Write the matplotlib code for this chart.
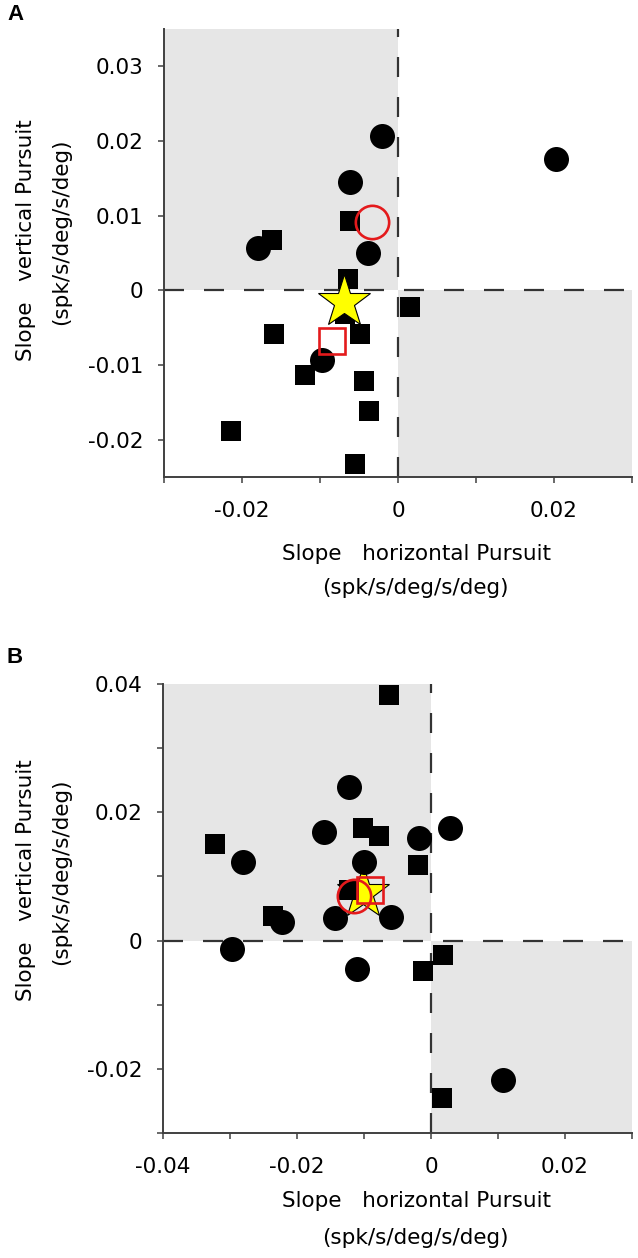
import matplotlib
matplotlib.use("Agg")
import matplotlib.pyplot as plt

plt.rcParams['font.family'] = ['DejaVu Sans']

# ---------------- Panel A data ----------------
a_circ_x = [-0.0020, 0.0202, -0.0062, -0.0180, -0.0038, -0.0098]
a_circ_y = [0.0207, 0.0176, 0.0145, 0.0057, 0.0050, -0.0093]
a_sq_x = [-0.0162, -0.0062, -0.0064, 0.0015, -0.0159, -0.0049, -0.0119,
          -0.0044, -0.0037, -0.0214, -0.0055, -0.0068]
a_sq_y = [0.0068, 0.0093, 0.0015, -0.0022, -0.0059, -0.0059, -0.0113,
          -0.0121, -0.0162, -0.0189, -0.0233, -0.0032]
a_mean_circ = (-0.0033, 0.0091)
a_mean_sq = (-0.0085, -0.0068)
a_mean_all = (-0.0069, -0.0015)
a_xlim = (-0.03, 0.03)
a_ylim = (-0.025, 0.035)
a_xticks = [-0.03, -0.02, -0.01, 0.0, 0.01, 0.02, 0.03]
a_xticklabels = ['', '-0.02', '', '0', '', '0.02', '']
a_yticks = [-0.02, -0.01, 0.0, 0.01, 0.02, 0.03]
a_yticklabels = ['-0.02', '-0.01', '0', '0.01', '0.02', '0.03']

# ---------------- Panel B data ----------------
b_circ_x = [-0.0122, -0.0159, -0.0018, 0.0028, -0.0280, -0.0100, -0.0222,
            -0.0143, -0.0060, -0.0297, -0.0110, 0.0108]
b_circ_y = [0.0240, 0.0169, 0.0160, 0.0176, 0.0122, 0.0123, 0.0029,
            0.0035, 0.0036, -0.0013, -0.0045, -0.0218]
b_sq_x = [-0.0062, -0.0322, -0.0101, -0.0077, -0.0019, -0.0236, -0.0122,
          0.0018, -0.0012, 0.0017]
b_sq_y = [0.0383, 0.0151, 0.0175, 0.0163, 0.0118, 0.0038, 0.0079,
          -0.0023, -0.0048, -0.0245]
b_mean_circ = (-0.0115, 0.0069)
b_mean_sq = (-0.0091, 0.0079)
b_mean_all = (-0.0102, 0.0074)
b_xlim = (-0.04, 0.03)
b_ylim = (-0.03, 0.04)
b_xticks = [-0.04, -0.03, -0.02, -0.01, 0.0, 0.01, 0.02, 0.03]
b_xticklabels = ['-0.04', '', '-0.02', '', '0', '', '0.02', '']
b_yticks = [-0.03, -0.02, -0.01, 0.0, 0.01, 0.02, 0.03, 0.04]
b_yticklabels = ['', '-0.02', '', '0', '', '0.02', '', '0.04']

xlabel1 = 'Slope   horizontal Pursuit'
xlabel2 = '(spk/s/deg/s/deg)'
ylabel1 = 'Slope   vertical Pursuit'
ylabel2 = '(spk/s/deg/s/deg)'

W, H = 638, 1258
fig = plt.figure(figsize=(W / 100, H / 100), dpi=100)

GREY = '#e6e6e6'
RED = '#e41a1c'
SPINE = '#404040'
FS = 15.5


def px_axes(l, t, r, b):
    return fig.add_axes([l / W, 1 - b / H, (r - l) / W, (b - t) / H])


def draw_panel(ax, cx, cy, sx, sy, mc, ms, ma, xlim, ylim, xt, xtl, yt, ytl, star_top):
    ax.set_xlim(*xlim)
    ax.set_ylim(*ylim)
    ax.fill_between([xlim[0], 0], 0, ylim[1], color=GREY, lw=0, zorder=0)
    ax.fill_between([0, xlim[1]], ylim[0], 0, color=GREY, lw=0, zorder=0)
    ax.axhline(0, color='#333333', lw=1.6, dashes=(9, 9), zorder=1)
    ax.axvline(0, color='#333333', lw=1.6, dashes=(9, 9), zorder=1)
    zs = 5 if star_top else 2
    ax.plot([ma[0]], [ma[1]], marker='*', ms=40, mfc='#ffff00', mec='black',
            mew=0.8, ls='none', zorder=zs, clip_on=False)
    ax.plot(sx, sy, marker='s', ms=14.5, mfc='black', mec='black', mew=0,
            ls='none', zorder=3, clip_on=False)
    ax.plot(cx, cy, marker='o', ms=18, mfc='black', mec='black', mew=0,
            ls='none', zorder=4, clip_on=False)
    ax.plot([mc[0]], [mc[1]], marker='o', ms=24, mfc='none', mec=RED,
            mew=1.9, ls='none', zorder=6)
    ax.plot([ms[0]], [ms[1]], marker='s', ms=19, mfc='none', mec=RED,
            mew=1.9, ls='none', zorder=6)
    for s in ('top', 'right'):
        ax.spines[s].set_visible(False)
    for s in ('left', 'bottom'):
        ax.spines[s].set_color(SPINE)
        ax.spines[s].set_linewidth(1.4)
        ax.spines[s].set_zorder(7)
    ax.set_xticks(xt)
    ax.set_xticklabels(xtl)
    ax.set_yticks(yt)
    ax.set_yticklabels(ytl)
    ax.tick_params(axis='both', direction='out', length=4, width=1.1,
                   color=SPINE, labelsize=FS, labelcolor='black')
    ax.tick_params(axis='y', pad=11)
    ax.tick_params(axis='x', pad=13)


axA = px_axes(164, 29, 632, 477)
draw_panel(axA, a_circ_x, a_circ_y, a_sq_x, a_sq_y, a_mean_circ, a_mean_sq,
           a_mean_all, a_xlim, a_ylim, a_xticks, a_xticklabels, a_yticks,
           a_yticklabels, star_top=True)

axB = px_axes(163, 684, 632, 1133)
draw_panel(axB, b_circ_x, b_circ_y, b_sq_x, b_sq_y, b_mean_circ, b_mean_sq,
           b_mean_all, b_xlim, b_ylim, b_xticks, b_xticklabels, b_yticks,
           b_yticklabels, star_top=False)


def ftext(x, y, s, **kw):
    fig.text(x / W, 1 - y / H, s, **kw)


# Panel letters
ftext(7, 14, 'A', fontsize=16, fontweight='bold', ha='left', va='center',
      family=['Liberation Sans', 'DejaVu Sans'])
ftext(7, 657, 'B', fontsize=16, fontweight='bold', ha='left', va='center',
      family=['Liberation Sans', 'DejaVu Sans'])

# Axis labels panel A
ftext(417, 554, xlabel1, fontsize=FS, ha='center', va='center')
ftext(415, 588, xlabel2, fontsize=FS, ha='center', va='center')
ftext(26, 240, ylabel1, fontsize=FS, ha='center', va='center', rotation=90)
ftext(61, 232, ylabel2, fontsize=FS, ha='center', va='center', rotation=90)

# Axis labels panel B
ftext(417, 1201, xlabel1, fontsize=FS, ha='center', va='center')
ftext(415, 1238, xlabel2, fontsize=FS, ha='center', va='center')
ftext(26, 880, ylabel1, fontsize=FS, ha='center', va='center', rotation=90)
ftext(61, 872, ylabel2, fontsize=FS, ha='center', va='center', rotation=90)

fig.savefig('out.png', dpi=100)
